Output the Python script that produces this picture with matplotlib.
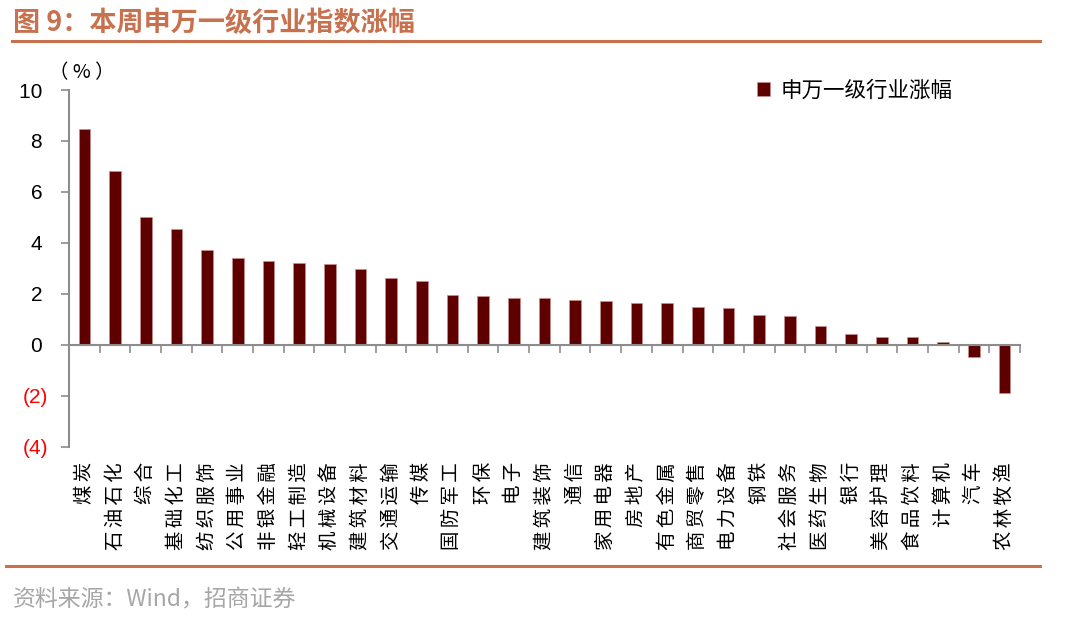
import numpy as np
import matplotlib.pyplot as plt
import matplotlib.transforms as mtransforms

plt.rcParams['font.family'] = ['Noto Sans CJK SC', 'DejaVu Sans']

# 申万一级行业本周涨幅 (%)
industries = ['煤炭', '石油石化', '综合', '基础化工', '纺织服饰', '公用事业', '非银金融',
              '轻工制造', '机械设备', '建筑材料', '交通运输', '传媒', '国防军工', '环保',
              '电子', '建筑装饰', '通信', '家用电器', '房地产', '有色金属', '商贸零售',
              '电力设备', '钢铁', '社会服务', '医药生物', '银行', '美容护理', '食品饮料',
              '计算机', '汽车', '农林牧渔']
changes = [8.47, 6.84, 5.02, 4.56, 3.74, 3.43, 3.30, 3.22, 3.18, 2.99, 2.61, 2.49,
           1.95, 1.91, 1.86, 1.83, 1.78, 1.74, 1.66, 1.66, 1.48, 1.44, 1.19, 1.15,
           0.75, 0.42, 0.33, 0.30, 0.10, -0.47, -1.90]
yticks = [-4, -2, 0, 2, 4, 6, 8, 10]
ytick_labels = ['(4)', '(2)', '0 ', '2 ', '4 ', '6 ', '8 ', '10 ']

title_color = '#C8714E'
bar_color = '#5E0000'
axis_color = '#8C8C8C'

fig = plt.figure(figsize=(10.8, 6.19), dpi=100)
ax = fig.add_axes([0.0639, 0.2779, 0.8805, 0.5767])

x = np.arange(len(industries))
ax.bar(x, changes, width=0.38, color=bar_color, edgecolor='#C89090', linewidth=0.5,
       label='申万一级行业涨幅')

ax.set_xlim(-0.5, len(industries) - 0.5)
ax.set_ylim(-4, 10)

# 坐标轴样式
for s in ['top', 'right']:
    ax.spines[s].set_visible(False)
ax.spines['bottom'].set_position(('data', 0))
ax.spines['bottom'].set_color(axis_color)
ax.spines['left'].set_color(axis_color)
ax.spines['bottom'].set_linewidth(1.5)
ax.spines['left'].set_linewidth(1.5)

ax.set_xticks(np.arange(-0.5, len(industries), 1.0))
ax.set_xticklabels([])
ax.tick_params(axis='x', direction='out', length=6, width=1.2, color=axis_color)

ax.set_yticks(yticks)
ax.set_yticklabels(ytick_labels, family=['Liberation Sans', 'DejaVu Sans'], fontsize=15)
ax.tick_params(axis='y', direction='out', length=6, width=1.2, color=axis_color, pad=9)
for lbl, v in zip(ax.get_yticklabels(), yticks):
    lbl.set_color('red' if v < 0 else 'black')

# 行业标签：旋转90度，自下而上阅读
trans = mtransforms.blended_transform_factory(ax.transData, fig.transFigure)
for i, name in enumerate(industries):
    ax.text(i, 0.254, '\u2006'.join(name), transform=trans, ha='center', va='top',
            rotation=90, fontsize=14, family=['Noto Sans CJK SC', 'DejaVu Sans'])

fig.text(0.045, 0.866, '（ % ）', fontsize=14, ha='left', va='bottom')

leg = ax.legend(loc='upper left', bbox_to_anchor=(0.683, 0.903), bbox_transform=fig.transFigure,
                frameon=False, fontsize=15.5, handlelength=0.6, handleheight=0.6, handletextpad=0.5)

# 标题与分隔线
fig.text(0.012, 0.963, '图 9：本周申万一级行业指数涨幅', fontsize=19.5, fontweight='bold',
         color=title_color, ha='left', va='center')
fig.add_artist(plt.Line2D([0.011, 0.963], [0.934, 0.934], color=title_color, lw=2.2,
                          transform=fig.transFigure))
fig.add_artist(plt.Line2D([0.006, 0.963], [0.086, 0.086], color=title_color, lw=2.2,
                          transform=fig.transFigure))
fig.text(0.012, 0.03, '资料来源：Wind，招商证券', fontsize=16.5, color='#A6A6A6',
         ha='left', va='center')

fig.savefig('out.png', dpi=100)
